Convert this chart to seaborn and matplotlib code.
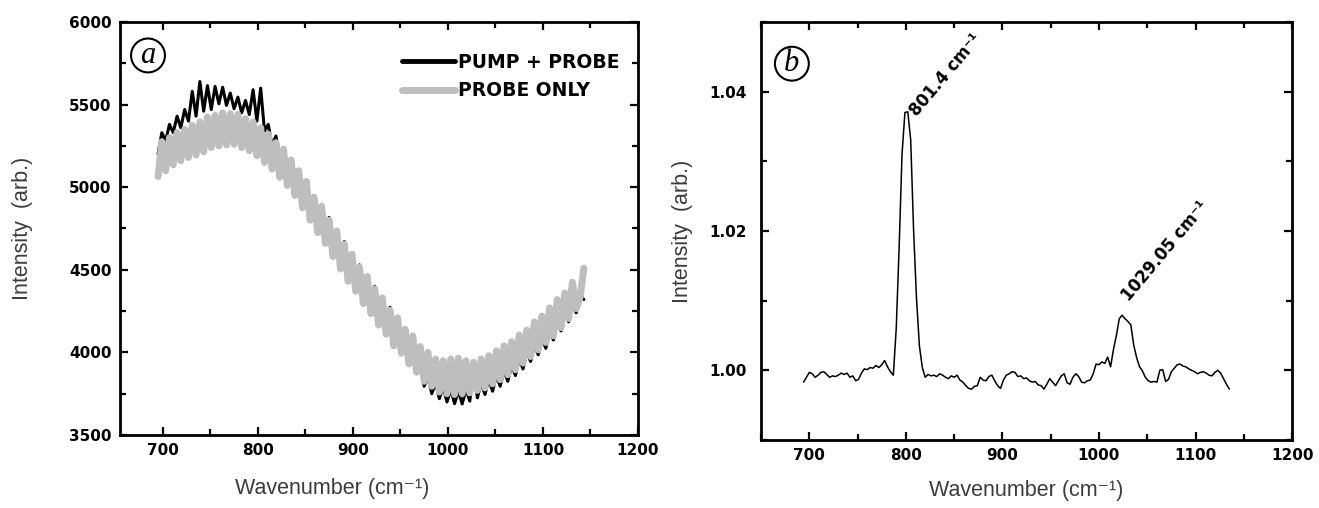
import numpy as np
import pandas as pd
import matplotlib
matplotlib.use("Agg")
import matplotlib.pyplot as plt
import seaborn as sns
from matplotlib.ticker import MultipleLocator

sns.set_theme(style="ticks")
plt.rcParams['font.family'] = ['Liberation Sans', 'DejaVu Sans']
plt.rcParams['text.color'] = 'black'
plt.rcParams['xtick.color'] = 'black'
plt.rcParams['ytick.color'] = 'black'

# ---------------- Panel (a) data ----------------
wn_a = np.arange(695, 1144, 4)
pump_probe = [
    5200, 5330, 5280, 5380, 5330, 5430, 5360, 5470, 5400, 5580,
    5430, 5640, 5460, 5615, 5470, 5610, 5505, 5605, 5495, 5570,
    5475, 5545, 5450, 5525, 5440, 5590, 5400, 5600, 5340, 5380,
    5250, 5310, 5190, 5240, 5110, 5170, 5040, 5090, 4965, 5025,
    4895, 4950, 4847, 4893, 4775, 4817, 4700, 4743, 4627, 4671,
    4555, 4599, 4485, 4530, 4417, 4465, 4353, 4401, 4289, 4337,
    4225, 4273, 4160, 4200, 4075, 4110, 3985, 4020, 3900, 3945,
    3795, 3850, 3750, 3815, 3720, 3790, 3700, 3775, 3690, 3765,
    3688, 3775, 3705, 3905, 3725, 3815, 3745, 3835, 3765, 3860,
    3795, 3890, 3825, 3920, 3860, 3960, 3900, 4005, 3945, 4045,
    3985, 4085, 4025, 4130, 4075, 4180, 4130, 4235, 4185, 4295,
    4240, 4350, 4320,
]
probe_only = [
    5065, 5275, 5100, 5300, 5135, 5330, 5160, 5350, 5180, 5375,
    5195, 5395, 5215, 5425, 5240, 5435, 5250, 5450, 5255, 5445,
    5260, 5440, 5240, 5415, 5220, 5395, 5190, 5360, 5150, 5320,
    5110, 5270, 5060, 5230, 5010, 5165, 4950, 5100, 4875, 5035,
    4800, 4940, 4725, 4885, 4660, 4800, 4580, 4735, 4505, 4655,
    4430, 4595, 4370, 4515, 4295, 4460, 4235, 4385, 4165, 4330,
    4110, 4255, 4040, 4210, 3995, 4140, 3930, 4100, 3880, 4035,
    3825, 4000, 3795, 3960, 3760, 3950, 3750, 3960, 3745, 3965,
    3750, 3950, 3755, 3940, 3770, 3960, 3785, 3980, 3810, 4010,
    3835, 4040, 3865, 4065, 3895, 4105, 3935, 4135, 3975, 4185,
    4015, 4220, 4060, 4270, 4100, 4320, 4150, 4360, 4205, 4425,
    4265, 4330, 4510,
]
a_xticks = [700, 800, 900, 1000, 1100, 1200]
a_yticks = [3500, 4000, 4500, 5000, 5500, 6000]

# ---------------- Panel (b) data ----------------
wn_b = np.arange(694, 1136, 3)
ratio = [
    0.9983, 0.9990, 0.9997, 0.9995, 0.9990, 0.9993, 0.9997, 0.9998, 0.9994, 0.9990,
    0.9992, 0.9991, 0.9993, 0.9996, 0.9994, 0.9996, 0.9990, 0.9992, 0.9985, 0.9987,
    0.9996, 1.0002, 1.0001, 1.0004, 1.0003, 1.0007, 1.0004, 1.0008, 1.0014, 1.0005,
    0.9998, 0.9993, 1.0060, 1.0176, 1.0310, 1.0370, 1.0371, 1.0330, 1.0200, 1.0103,
    1.0035, 1.0004, 0.9990, 0.9994, 0.9992, 0.9993, 0.9991, 0.9995, 0.9993, 0.9990,
    0.9988, 0.9992, 0.9990, 0.9993, 0.9986, 0.9983, 0.9978, 0.9974, 0.9973, 0.9977,
    0.9978, 0.9990, 0.9986, 0.9985, 0.9991, 0.9993, 0.9985, 0.9978, 0.9974, 0.9986,
    0.9993, 0.9995, 0.9998, 0.9997, 0.9991, 0.9992, 0.9988, 0.9989, 0.9985, 0.9983,
    0.9984, 0.9979, 0.9978, 0.9973, 0.9980, 0.9988, 0.9983, 0.9978, 0.9985, 0.9992,
    0.9995, 0.9982, 0.9980, 0.9990, 0.9995, 0.9991, 0.9983, 0.9982, 0.9985, 0.9986,
    0.9995, 1.0009, 1.0008, 1.0012, 1.0010, 1.0019, 1.0005, 1.0030, 1.0050, 1.0074,
    1.0079, 1.0074, 1.0070, 1.0065, 1.0036, 1.0018, 1.0005, 0.9999, 0.9990, 0.9985,
    0.9983, 0.9984, 0.9983, 1.0000, 1.0001, 0.9984, 0.9987, 0.9998, 1.0003, 1.0008,
    1.0009, 1.0006, 1.0005, 1.0002, 1.0000, 0.9998, 0.9995, 0.9997, 0.9998, 0.9996,
    0.9993, 0.9992, 0.9997, 1.0000, 0.9996, 0.9988, 0.9980, 0.9973,
]
b_xticks = [700, 800, 900, 1000, 1100, 1200]
b_yticks = [1.00, 1.02, 1.04]
b_ytick_labels = ["1.00", "1.02", "1.04"]
peak_labels = ["801.4 cm⁻¹", "1029.05 cm⁻¹"]
peak_pos = [(808, 1.0368), (1027, 1.0102)]

df_a = pd.DataFrame({"wn": np.concatenate([wn_a, wn_a]),
                     "I": pump_probe + probe_only,
                     "series": ["PUMP + PROBE"] * len(wn_a) + ["PROBE ONLY"] * len(wn_a)})
df_b = pd.DataFrame({"wn": wn_b, "I": ratio})

fig = plt.figure(figsize=(13.19, 5.08), dpi=100)
ax1 = fig.add_axes([0.091, 0.1437, 0.3927, 0.813])
ax2 = fig.add_axes([0.577, 0.1339, 0.4026, 0.823])

sns.lineplot(data=df_a[df_a.series == "PUMP + PROBE"], x="wn", y="I", ax=ax1,
             color="black", lw=2.2, estimator=None, sort=False, label="PUMP + PROBE")
sns.lineplot(data=df_a[df_a.series == "PROBE ONLY"], x="wn", y="I", ax=ax1,
             color="#bebebe", lw=5.0, estimator=None, sort=False, label="PROBE ONLY")
sns.lineplot(data=df_b, x="wn", y="I", ax=ax2, color="black", lw=1.1,
             estimator=None, sort=False, legend=False)

label_font = dict(fontsize=15.5, color="#3c3c3c")
tick_font = dict(fontsize=11, fontweight="bold", family="DejaVu Sans", color="black")


def style(ax, ypad):
    for s in ax.spines.values():
        s.set_linewidth(2.0)
        s.set_color("black")
    ax.tick_params(which="both", direction="in", top=True, right=True,
                   width=1.6, color="black")
    ax.tick_params(which="major", length=6)
    ax.tick_params(which="minor", length=4)
    ax.tick_params(axis="x", which="both", pad=6)
    ax.tick_params(axis="y", which="both", pad=ypad)
    ax.grid(False)


ax1.set_xlim(655, 1200)
ax1.set_ylim(3500, 6000)
ax1.set_xticks(a_xticks, [str(t) for t in a_xticks], **tick_font)
ax1.set_yticks(a_yticks, [str(t) for t in a_yticks], **tick_font)
ax1.xaxis.set_minor_locator(MultipleLocator(50))
ax1.yaxis.set_minor_locator(MultipleLocator(250))
style(ax1, 6)
ax1.set_xlabel("Wavenumber (cm⁻¹)", **label_font)
ax1.set_ylabel("Intensity  (arb.)", **label_font)
ax1.xaxis.set_label_coords(0.41, -0.104)
ax1.yaxis.set_label_coords(-0.168, 0.5)

leg = ax1.legend(loc="upper right", bbox_to_anchor=(0.965, 0.925), frameon=False,
                 borderaxespad=0, borderpad=0, handlelength=2.8, handletextpad=0.2,
                 labelspacing=0.5, prop=dict(family="DejaVu Sans", weight="bold", size=13.5))
for h, w in zip(leg.get_lines(), [3.5, 5.0]):
    h.set_linewidth(w)

ax2.set_xlim(650, 1200)
ax2.set_ylim(0.99, 1.05)
ax2.set_xticks(b_xticks, [str(t) for t in b_xticks], **tick_font)
ax2.set_yticks(b_yticks, b_ytick_labels, **tick_font)
ax2.xaxis.set_minor_locator(MultipleLocator(50))
ax2.yaxis.set_minor_locator(MultipleLocator(0.01))
style(ax2, 10)
ax2.set_xlabel("Wavenumber (cm⁻¹)", **label_font)
ax2.set_ylabel("Intensity  (arb.)", **label_font)
ax2.xaxis.set_label_coords(0.5, -0.096)
ax2.yaxis.set_label_coords(-0.128, 0.5)

for txt, (px, py) in zip(peak_labels, peak_pos):
    ax2.text(px, py, txt, rotation=50, rotation_mode="anchor", ha="left", va="center",
             fontsize=12, fontweight="bold", family="DejaVu Sans", color="black")

circ = dict(boxstyle="circle,pad=0.08", fc="white", ec="black", lw=1.5)
ax1.text(0.054, 0.919, "a", transform=ax1.transAxes, ha="center", va="center",
         fontsize=22, family="Liberation Serif", style="italic", bbox=circ)
ax2.text(0.058, 0.90, "b", transform=ax2.transAxes, ha="center", va="center",
         fontsize=22, family="Liberation Serif", style="italic", bbox=circ)

fig.savefig("out.png", dpi=100, facecolor="white")
